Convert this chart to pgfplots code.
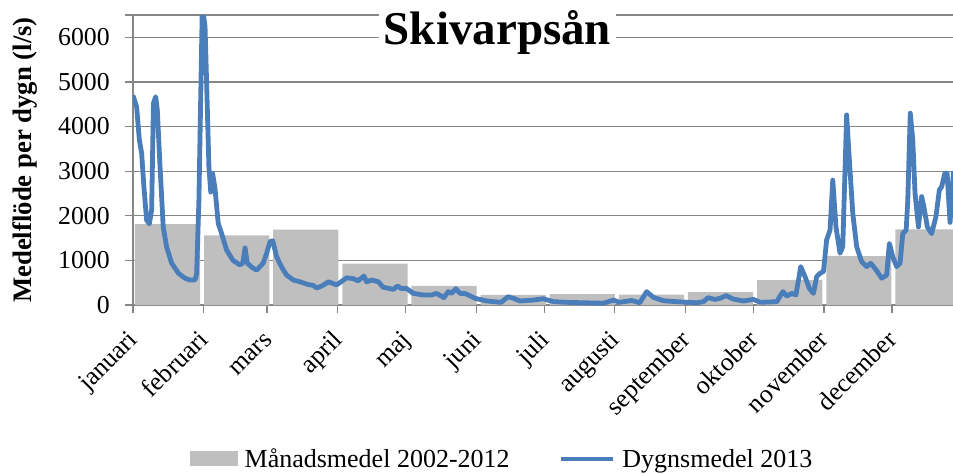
\documentclass[border=0pt]{standalone}
\usepackage{fontspec}
\setmainfont{Liberation Serif}
\usepackage{pgfplots}
\pgfplotsset{compat=1.18}
\definecolor{barGray}{RGB}{191,191,191}
\definecolor{lineBlue}{RGB}{74,126,187}
\definecolor{gridGray}{RGB}{134,134,134}
\begin{document}
\begin{tikzpicture}
\begin{axis}[
  name=ax, at={(0,0)}, anchor=south west,
  scale only axis, width=820bp, height=290bp,
  xmin=0, xmax=360.8, ymin=0, ymax=6500,
  axis x line*=bottom, axis y line*=left,
  axis line style={draw=gridGray, line width=1.3bp, -},
  tick pos=left, tick align=outside, major tick length=8bp,
  tick style={draw=gridGray, line width=1.3bp},
  ytick={0,1000,2000,3000,4000,5000,6000},
  scaled y ticks=false,
  /pgf/number format/1000 sep={},
  /pgf/number format/assume math mode=true,
  extra y ticks={6500}, extra y tick labels={},
  extra y tick style={grid=major},
  ymajorgrids, major grid style={draw=gridGray, line width=1.3bp},
  xtick={0,31,59,90,120,151,181,212,243,273,304,334},
  xticklabels={januari,februari,mars,april,maj,juni,juli,augusti,september,oktober,november,december},
  yticklabel style={font=\fontsize{25.8bp}{30bp}\selectfont, anchor=east, inner sep=0pt, xshift=-15bp},
  xticklabel style={font=\fontsize{25.8bp}{30bp}\selectfont, rotate=45, anchor=north east,
     text height=24bp, text depth=0bp, inner xsep=15.5bp, inner ysep=0bp},
  title={Skivarpsån},
  title style={at={(axis description cs:0.4445,0.8793)}, anchor=base, fill=white, inner xsep=5bp, inner ysep=5bp, font=\bfseries\fontsize{47bp}{50bp}\selectfont},
  ylabel={Medelflöde per dygn (l/s)},
  ylabel style={at={(axis description cs:-0.1232,0.5)}, anchor=base, font=\bfseries\fontsize{26.7bp}{30bp}\selectfont},
  legend style={draw=none, fill=none, at={(axis description cs:0.4488,-0.531)}, anchor=center,
    font=\fontsize{26bp}{30bp}\selectfont, nodes={inner sep=0pt}, column sep=7bp,
    /tikz/column 2/.style={column sep=49bp}},
  legend columns=2,
]
\addplot[ybar, bar width=28.7, fill=barGray, draw=none,
  legend image code/.code={\fill[barGray] (0bp,-7.5bp) rectangle (48bp,7.5bp);}]
  coordinates {(15.21,1810) (45.63,1560) (76.04,1690) (106.46,930) (136.88,430) (167.29,225)
               (197.71,245) (228.13,230) (258.54,290) (288.96,555) (319.38,1095) (349.79,1695)};
\addlegendentry{Månadsmedel 2002-2012}
\addplot[lineBlue, line width=4.8bp, line join=round, mark=none,
  legend image code/.code={\draw[lineBlue, line width=4.8bp] (0bp,0bp) -- (52bp,0bp);}]
  coordinates {
(0,4700) (1.6,4440) (2.8,3700) (3.8,3400) (4.8,2650) (6,1900) (7.2,1820) (8.2,2130)
(9,4520) (10,4670) (10.7,4370) (11.9,3100) (13.3,1750) (14.8,1300) (17,940) (20,710)
(22.9,600) (25,560) (27.3,560) (28,700) (29,2350) (30.5,6700) (31.7,6240) (32.4,4970)
(33.4,3100) (34.2,2530) (35,2950) (36,2650) (37.5,1830) (39,1600) (41.2,1230) (44,1000)
(47,900) (48.3,940) (49.3,1280) (50.3,940) (52.2,850) (54.4,780) (57.3,940) (58.8,1160)
(60.3,1420) (61.5,1440) (63.2,1080) (65.4,850) (67.6,670) (70.5,560) (73.5,520) (77,460)
(79.3,440) (80.8,380) (83,425) (86,520) (89.6,450) (94,610) (97,590) (99,540)
(101.6,650) (102.8,520) (105,560) (108,520) (110,400) (114.6,350) (116.4,425) (118,370)
(120.4,370) (123.3,260) (127.7,225) (131.4,225) (133.6,260) (136.8,165) (138.7,300) (140.2,260)
(142,365) (143.9,260) (146,260) (150.5,150) (155.6,90) (162,60) (165,185) (167.4,150)
(170.3,90) (176,110) (180.5,140) (185,75) (190.8,60) (198,50) (207,40) (211.4,110)
(214,60) (219.4,100) (223,50) (226,300) (229,170) (233.4,95) (239,75) (248,50)
(251,75) (253,165) (256,125) (258.3,150) (261,210) (264,135) (268.6,90) (273,125)
(276,60) (283.3,75) (284.7,200) (286,300) (287.6,200) (289.9,260) (291.7,225) (293.8,860)
(295.7,635) (297.6,370) (299.4,260) (300.8,635) (302.3,710) (303.8,750) (305.2,1460) (306.7,1680)
(307.9,2800) (309.3,1750) (311.1,1160) (312.3,1310) (314,4260) (315.2,3250) (316.7,2055) (318.4,1310)
(320.6,970) (322.8,860) (324.6,935) (327,785) (329.4,600) (331.6,670) (332.8,1380) (334.3,1080)
(336,860) (337.5,935) (338.7,1600) (340.2,1680) (340.9,2350) (342,4300) (343.1,3700) (344.1,2500)
(345.6,1750) (347,2430) (348,2200) (349.5,1750) (351.4,1600) (353.3,1980) (354.8,2580) (355.8,2650)
(357.2,2950) (358.2,2950) (359.5,1850) (361,3000)
  };
\addlegendentry{Dygnsmedel 2013}
\end{axis}
\pgfresetboundingbox
\path[use as bounding box] (-133bp,-169bp) rectangle (820bp,305bp);
\end{tikzpicture}
\end{document}
